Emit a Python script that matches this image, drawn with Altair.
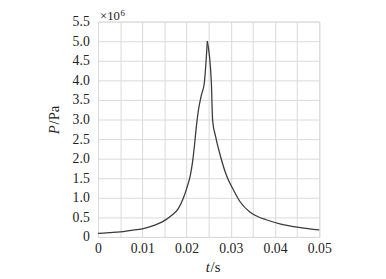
import altair as alt
import pandas as pd

# rising branch (up to the peak) and falling branch (from the peak)
t_rise = [0, 0.0025, 0.005, 0.0075, 0.01, 0.0125, 0.0144, 0.0166, 0.0181, 0.0192,
          0.0202, 0.0209, 0.0214, 0.0218, 0.0222, 0.0227, 0.0233, 0.0240, 0.0247]
p_rise = [0.09, 0.11, 0.13, 0.17, 0.21, 0.29, 0.38, 0.55, 0.72, 0.97,
          1.3, 1.6, 1.95, 2.35, 2.8, 3.25, 3.6, 3.92, 5.0]
t_fall = [0.0247, 0.0256, 0.0259, 0.0266, 0.0277, 0.0291, 0.0306, 0.0321, 0.0343,
          0.0363, 0.038, 0.0413, 0.0457, 0.05]
p_fall = [5.0, 3.97, 2.97, 2.55, 2.05, 1.55, 1.2, 0.9, 0.64,
          0.51, 0.44, 0.33, 0.24, 0.18]

x_ticks = [i * 0.005 for i in range(11)]
y_ticks = [i * 0.5 for i in range(12)]

df = pd.concat([
    pd.DataFrame({"t": t_rise, "P": p_rise, "seg": "rise"}),
    pd.DataFrame({"t": t_fall, "P": p_fall, "seg": "fall"}),
], ignore_index=True)

FONT = "Liberation Serif"
TXT = "#222222"

line = alt.Chart(df).mark_line(color="#3a3a3a", strokeWidth=1.3,
                               interpolate="monotone").encode(
    x=alt.X("t:Q",
            scale=alt.Scale(domain=[0, 0.05], nice=False, zero=False),
            axis=alt.Axis(values=x_ticks, title=None, grid=True, ticks=False,
                          domain=False, labelFont=FONT, labelFontSize=14,
                          labelColor=TXT, labelPadding=5, labelFlush=False,
                          labelOverlap=False,
                          labelExpr="(round(datum.value*1000) % 10 == 0) ? (datum.value == 0 ? '0' : format(datum.value, '.2f')) : ''",
                          gridColor="#d9d9d9", gridWidth=1)),
    y=alt.Y("P:Q",
            scale=alt.Scale(domain=[0, 5.5], nice=False),
            axis=alt.Axis(values=y_ticks, title=None, grid=True, ticks=False,
                          domain=False, labelFont=FONT, labelFontSize=14,
                          labelColor=TXT, labelPadding=9, labelFlush=False,
                          labelOverlap=False,
                          labelExpr="datum.value == 0 ? '0' : format(datum.value, '.1f')",
                          gridColor="#d9d9d9", gridWidth=1)),
    detail="seg:N",
)

one = pd.DataFrame({"a": [0]})

def txt(s, x, y, size=14, style="normal", angle=0, align="left", baseline="alphabetic"):
    kw = dict(font=FONT, fontSize=size, fontStyle=style, color=TXT,
              align=align, baseline=baseline)
    if angle:
        kw["angle"] = angle
    return alt.Chart(one).mark_text(**kw).encode(
        x=alt.value(x), y=alt.value(y), text=alt.value(s))

labels = [
    # y-axis title (rotated): italic P then /Pa
    txt("P", -40, 115, size=15, style="italic", angle=270, align="left"),
    txt("/Pa", -40, 105, size=15, angle=270, align="left"),
    # x-axis title: italic t then /s
    txt("t", 110, 256, size=15, style="italic", align="left"),
    txt("/s", 115, 256, size=15, align="left"),
    # multiplier
    txt("\u00d710", 2, -2, size=13),
    txt("6", 23, -6, size=9),
]

chart = alt.layer(line, *labels).properties(
    width=226, height=220,
    autosize=alt.AutoSizeParams(type="none"),
    padding={"left": 92, "top": 11, "right": 60, "bottom": 40},
).configure_view(stroke="#8a8a8a", strokeWidth=1).configure(background="white")

chart.save("out.html", embed_options={"renderer": "svg", "actions": False})
